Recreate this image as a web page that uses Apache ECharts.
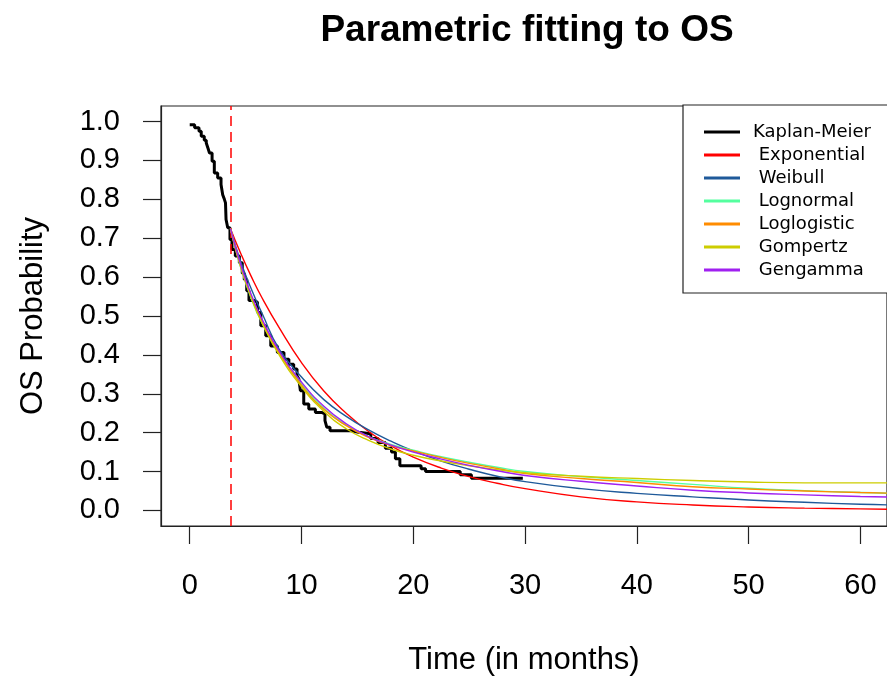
<!DOCTYPE html>
<html>
<head>
<meta charset="utf-8">
<script src="https://cdn.jsdelivr.net/npm/echarts@6/dist/echarts.min.js"></script>
<style>html,body{margin:0;padding:0;background:#fff}#c{width:887px;height:681px}</style>
</head>
<body>
<div id="c"></div>
<script>
// ---- data ----
const xTicks = [0, 10, 20, 30, 40, 50, 60];
const yTicks = [0, 0.1, 0.2, 0.3, 0.4, 0.5, 0.6, 0.7, 0.8, 0.9, 1.0];
const landmark = 3.64;

const kmTime = [0, 0.44, 0.83, 1.03, 1.3, 1.48, 1.65, 1.77, 2.0, 2.2, 2.5, 2.8, 2.95, 3.1, 3.2, 3.25, 3.4, 3.6, 3.78, 4.08, 4.44, 4.7, 4.88, 5.1, 5.3, 5.77, 6.06, 6.36, 6.8, 7.25, 7.84, 8.43, 8.87, 9.3, 9.6, 9.76, 9.9, 10.2, 10.65, 11.24, 11.8, 12.1, 12.26, 12.55, 14.5, 15.1, 16.2, 16.85, 17.5, 18.05, 18.4, 18.8, 20.7, 21.1, 24.2, 25.2, 29.8];
const kmSurv = [0.992, 0.984, 0.975, 0.962, 0.952, 0.945, 0.93, 0.919, 0.898, 0.868, 0.855, 0.838, 0.812, 0.8, 0.791, 0.748, 0.727, 0.697, 0.671, 0.654, 0.637, 0.61, 0.594, 0.565, 0.54, 0.535, 0.509, 0.475, 0.449, 0.423, 0.406, 0.389, 0.376, 0.364, 0.346, 0.338, 0.308, 0.274, 0.261, 0.252, 0.248, 0.231, 0.214, 0.205, 0.201, 0.197, 0.185, 0.175, 0.16, 0.15, 0.133, 0.115, 0.107, 0.1, 0.092, 0.083, 0.083];

const fitTime = [3.64, 4.5, 5.5, 6.5, 8, 10, 12, 14, 16, 18, 20, 22.5, 25, 27.5, 30, 35, 40, 45, 50, 55, 60, 63];
const expSurv   = [0.725, 0.665, 0.602, 0.545, 0.47, 0.38, 0.307, 0.25, 0.203, 0.166, 0.137, 0.109, 0.087, 0.07, 0.056, 0.035, 0.022, 0.014, 0.009, 0.006, 0.004, 0.003];
const weiSurv   = [0.725, 0.645, 0.57, 0.505, 0.415, 0.343, 0.285, 0.242, 0.207, 0.178, 0.153, 0.127, 0.106, 0.088, 0.074, 0.056, 0.044, 0.035, 0.027, 0.021, 0.016, 0.014];
const lnormSurv = [0.725, 0.63, 0.545, 0.48, 0.405, 0.325, 0.263, 0.22, 0.19, 0.17, 0.155, 0.138, 0.124, 0.111, 0.1, 0.087, 0.077, 0.067, 0.057, 0.051, 0.046, 0.044];
const llogSurv  = [0.725, 0.632, 0.548, 0.483, 0.405, 0.322, 0.26, 0.218, 0.188, 0.167, 0.153, 0.136, 0.121, 0.108, 0.095, 0.082, 0.072, 0.061, 0.055, 0.05, 0.046, 0.044];
const gompSurv  = [0.725, 0.635, 0.548, 0.48, 0.4, 0.318, 0.255, 0.21, 0.18, 0.158, 0.142, 0.127, 0.115, 0.105, 0.097, 0.088, 0.082, 0.077, 0.073, 0.071, 0.071, 0.071];
const ggamSurv  = [0.725, 0.638, 0.555, 0.49, 0.41, 0.33, 0.268, 0.223, 0.19, 0.168, 0.15, 0.132, 0.116, 0.102, 0.09, 0.075, 0.063, 0.052, 0.045, 0.04, 0.036, 0.034];

const seriesNames = ['Kaplan-Meier', 'Exponential', 'Weibull', 'Lognormal', 'Loglogistic', 'Gompertz', 'Gengamma'];
const seriesColors = ['#000000', '#FF0000', '#1F5A9A', '#54FF9F', '#FF8C00', '#CDCD00', '#A020F0'];
const fitValues = [expSurv, weiSurv, lnormSurv, llogSurv, gompSurv, ggamSurv];

// ---- build chart ----
const FONT = 'Liberation Sans, Arial, sans-serif';
const LEGEND_FONT = 'DejaVu Sans, Liberation Sans, sans-serif';
const zip = (a, b) => a.map((v, i) => [v, b[i]]);

const series = [{
  name: seriesNames[0],
  type: 'line',
  step: 'end',
  data: zip(kmTime, kmSurv),
  symbol: 'none',
  lineStyle: { color: seriesColors[0], width: 3 },
  itemStyle: { color: seriesColors[0] },
  z: 2,
  markLine: {
    silent: true,
    symbol: 'none',
    label: { show: false },
    lineStyle: { color: '#FF0000', type: [10, 6], width: 1.5 },
    data: [{ xAxis: landmark }]
  }
}];
fitValues.forEach((vals, i) => {
  series.push({
    name: seriesNames[i + 1],
    type: 'line',
    data: zip(fitTime, vals),
    symbol: 'none',
    smooth: 0.5,
    lineStyle: { color: seriesColors[i + 1], width: 1.4 },
    itemStyle: { color: seriesColors[i + 1] },
    z: 3 + i
  });
});

const chart = echarts.init(document.getElementById('c'), null, { renderer: 'canvas' });
chart.setOption({
  animation: false,
  backgroundColor: '#fff',
  textStyle: { fontFamily: FONT },
  grid: { left: 161, top: 106, width: 732, height: 421, show: true, borderColor: '#222', borderWidth: 1.2, backgroundColor: 'transparent' },
  graphic: [{
    type: 'text', x: 527, y: 31,
    style: { text: 'Parametric fitting to OS', font: 'bold 37px ' + FONT, fill: '#000', textAlign: 'center', textVerticalAlign: 'middle' }
  }],
  legend: {
    orient: 'vertical', left: 683, top: 105,
    data: seriesNames,
    icon: 'rect', itemWidth: 36, itemHeight: 3, itemGap: 5,
    padding: [18, 40, 14, 21],
    borderColor: '#222', borderWidth: 1.2, backgroundColor: '#fff',
    textStyle: { fontFamily: LEGEND_FONT, fontSize: 18, color: '#000', padding: [0, 0, 0, 8] },
    formatter: n => (n === 'Kaplan-Meier' ? n : ' ' + n),
    selectedMode: false
  },
  xAxis: {
    type: 'value', min: -2.57, max: 62.38,
    name: 'Time (in months)', nameLocation: 'middle', nameGap: 119,
    nameTextStyle: { fontFamily: FONT, fontSize: 31, color: '#000' },
    axisLine: { show: true, onZero: false, lineStyle: { color: '#222', width: 1.2 } },
    axisTick: { show: true, inside: false, length: 18, customValues: xTicks, lineStyle: { color: '#222', width: 1.2 } },
    axisLabel: { customValues: xTicks, margin: 45, fontSize: 29, color: '#000', fontFamily: FONT },
    splitLine: { show: false }
  },
  yAxis: {
    type: 'value', min: -0.04, max: 1.04,
    name: 'OS Probability', nameLocation: 'middle', nameGap: 112,
    nameTextStyle: { fontFamily: FONT, fontSize: 31, color: '#000' },
    axisLine: { show: true, onZero: false, lineStyle: { color: '#222', width: 1.2 } },
    axisTick: { show: true, inside: false, length: 18, customValues: yTicks, lineStyle: { color: '#222', width: 1.2 } },
    axisLabel: { customValues: yTicks, margin: 41, fontSize: 29, color: '#000', fontFamily: FONT, formatter: v => v.toFixed(1) },
    splitLine: { show: false }
  },
  series: series
});
</script>
</body>
</html>
